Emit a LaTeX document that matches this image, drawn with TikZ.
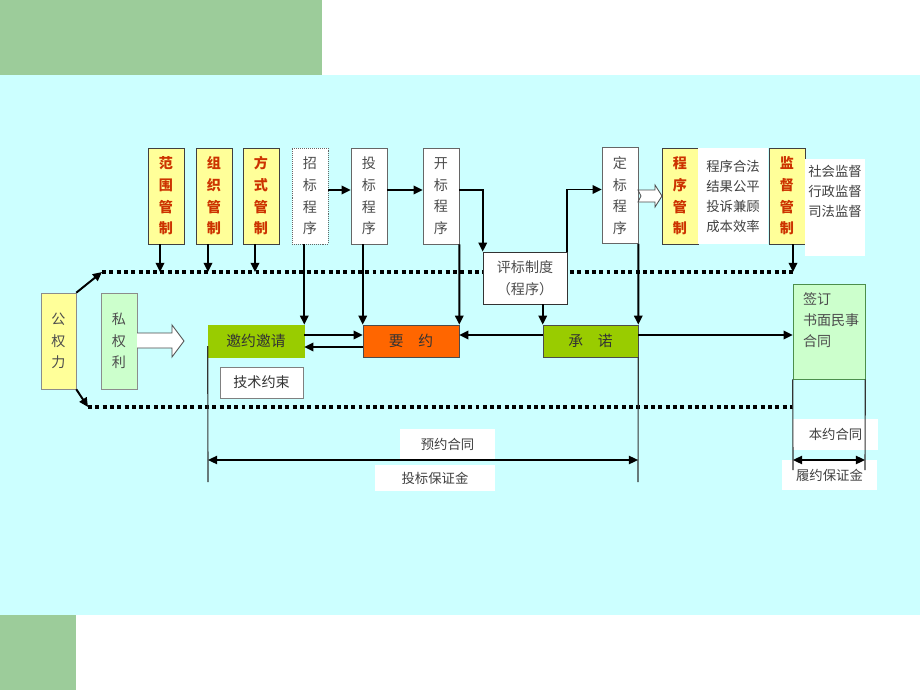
\documentclass[tikz,border=0pt]{standalone}
\usepackage{fontspec}
\setmainfont{Noto Sans CJK SC}
\usetikzlibrary{positioning, arrows.meta}

\definecolor{bgcyan}{HTML}{CCFFFF}
\definecolor{bargreen}{HTML}{9CCC9A}
\definecolor{ctrlyellow}{HTML}{FFFF99}
\definecolor{ctrlred}{HTML}{CC3300}
\definecolor{palegreen}{HTML}{CCFFCC}
\definecolor{leafgreen}{HTML}{99CC00}
\definecolor{offerorange}{HTML}{FF6600}

\tikzset{
    ctrlbox/.style={draw=black!75, fill=ctrlyellow, text=ctrlred, font=\bfseries\fontsize{10}{15.4}\selectfont,
        minimum width=.9cm, minimum height=2.4cm, inner sep=0pt, align=center},
    procbox/.style={draw=black!60, fill=white, text=black!70, font=\fontsize{10}{15.4}\selectfont,
        minimum width=.9cm, minimum height=2.4cm, inner sep=0pt, align=center},
    hbox/.style={draw=black!70, minimum width=2.4cm, minimum height=.8cm, inner sep=0pt,
        font=\fontsize{10.5}{12}\selectfont, text=black!80},
    note/.style={fill=white, inner sep=0pt, font=\fontsize{9.5}{14.2}\selectfont, text=black!75, align=center},
    dots/.style={line width=2.8pt, dash pattern=on 2.8pt off 2.4pt},
    conn/.style={line width=1.4pt, -{Triangle[length=6.5pt,width=6pt]}},
    fineln/.style={line width=.8pt, black!80},
    dimarrow/.style={line width=.9pt, {Triangle[length=6.5pt,width=6pt]}-{Triangle[length=6.5pt,width=6pt]}},
}

\begin{document}
\begin{tikzpicture}[x=0.025cm, y=-0.025cm]
        \useasboundingbox (0,0) rectangle (920,690);
        % background
        \fill[white] (0,0) rectangle (920,690);
        \fill[bargreen] (0,0) rectangle (322,75);
        \fill[bgcyan] (0,75) rectangle (920,615);
        \fill[bargreen] (0,615) rectangle (76,690);

        % labels under the arrows
        \node[note, minimum width=2.375cm, minimum height=.775cm] (yyht) at (447.5,444.5) {预约合同};
        \node[note, minimum width=3cm, minimum height=.65cm] (tbbz) at (435,478) {投标保证金};
        \node[note, minimum width=2.125cm, minimum height=.775cm] (byht) at (835.5,434.5) {本约合同};
        \node[note, minimum width=2.375cm, minimum height=.75cm] (lybz) at (829.5,475) {履约保证金};

        % the two dotted lines
        \coordinate (tl) at (102,272);
        \coordinate (tr) at (793,272);
        \coordinate (bl) at (88,407);
        \coordinate (br) at (793,407);
        \draw[dots] (tl) -- (tr);
        \draw[dots] (bl) -- (br);

        % top row
        \node[ctrlbox] (fw) at (166,196) {范\\围\\管\\制};
        \node[ctrlbox] (zz) at (214,196) {组\\织\\管\\制};
        \node[ctrlbox] (fs) at (261,196) {方\\式\\管\\制};
        \node[procbox, densely dotted] (zb) at (310,196) {招\\标\\程\\序};
        \node[procbox] (tb) at (369,196) {投\\标\\程\\序};
        \node[procbox] (kb) at (441,196) {开\\标\\程\\序};
        \node[procbox] (db) at (620,195.5) {定\\标\\程\\序};
        \node[ctrlbox] (cx) at (680,196) {程\\序\\管\\制};
        \node[note, minimum width=1.75cm, minimum height=2.4cm] (cxt) at (733,196) {程序合法\\结果公平\\投诉兼顾\\成本效率};
        \node[ctrlbox] (jd) at (787,196) {监\\督\\管\\制};
        \node[note, minimum width=1.5cm, minimum height=2.425cm] (jdt) at (835,207.5) {};
        \node[note, fill=none, anchor=north] (jdtx) at ([yshift=-.15cm]jdt.north) {社会监督\\行政监督\\司法监督};
        \node[procbox, draw=black!80, minimum width=2.1cm, minimum height=1.3cm] (pb) at (525,278) {评标制度\\（程序）};

        % middle row
        \node[procbox, fill=ctrlyellow, draw=black!45, minimum width=.875cm] (gq) at (58.5,341) {公\\权\\力};
        \node[procbox, fill=palegreen, draw=black!45] (sq) at (119,341) {私\\权\\利};
        \node[hbox, fill=leafgreen, draw=leafgreen] (yy) at (256,341) {邀约邀请};
        \node[hbox, fill=white, draw=black!50, minimum width=2.075cm, minimum height=.775cm, font=\fontsize{10}{12}\selectfont] (js) at (261.5,382.5) {技术约束};
        \node[hbox, fill=offerorange] (yao) at (411,341) {要\quad 约};
        \node[hbox, fill=leafgreen, minimum width=2.375cm] (cn) at (590.5,341) {承\quad 诺};
        \node[hbox, fill=palegreen, draw=black!35!green!40!gray, minimum width=1.8cm, minimum height=2.375cm] (qd) at (829,331.5) {};
        \node[anchor=north west, align=left, inner sep=0pt, text=black!70, font=\fontsize{10}{15}\selectfont] (qdt) at ([xshift=.25cm,yshift=-.22cm]qd.north west) {签订\\书面民事\\合同};

        % hollow arrows
        \draw[black!70, fill=white, line width=.6pt] (137,333) -- (172,333) -- (172,325) -- (184,341) -- (172,357) -- (172,348) -- (137,348);
        \draw[black!70, fill=white, line width=.6pt] (638,190) -- (655,190) -- (655,185) -- (662,196) -- (655,207) -- (655,202) -- (638,202) -- (641,196) -- cycle;

        % public power onto the dotted lines
        \draw[conn] (gq.north east) -- (tl);
        \draw[conn] (gq.south east) -- (bl);
        \foreach \n in {fw,zz,fs}
            \draw[conn] ([xshift=-.15cm]\n.south) -- ([xshift=-.15cm]\n.south |- tl);
        \draw[conn] (jd.south -| tr) -- (tr);

        % procedure chain
        \draw[conn] ([yshift=.15cm]zb.east) -- ([yshift=.15cm]tb.west);
        \draw[conn] ([yshift=.15cm]tb.east) -- ([yshift=.15cm]kb.west);
        \draw[conn] ([yshift=.15cm]kb.east) -| (pb.north west);
        \draw[conn] (pb.north east) |- ([yshift=.15cm]db.west);
        \draw[conn] (zb.south -| yy.north east) -- (yy.north east);
        \draw[conn] (tb.south -| yao.north west) -- (yao.north west);
        \draw[conn] (kb.south east) -- (yao.north east);
        \draw[conn] (pb.south -| cn.north west) -- (cn.north west);
        \draw[conn] (db.south east) -- (cn.north east);

        % offer and acceptance
        \draw[conn] ([yshift=.15cm]yy.east) -- ([yshift=.15cm]yao.west);
        \draw[conn] ([yshift=-.15cm]yao.west) -- ([yshift=-.15cm]yy.east);
        \draw[conn] ([yshift=.15cm]cn.west) -- ([yshift=.15cm]yao.east);
        \coordinate (cnE) at ([yshift=.15cm]cn.east);
        \draw[conn] (cnE) -- (cnE -| qd.west);

        % contract spans
        \coordinate (vl) at (208,482);
        \coordinate (vr) at (638,482);
        \coordinate (ya) at (208,460);
        \coordinate (yb) at (638,460);
        \coordinate (ql) at (793,470);
        \coordinate (qr) at (865,470);
        \coordinate (ra) at (793,460);
        \coordinate (rb) at (865,460);
        \draw[fineln] ([yshift=-.125cm]yy.west) -- (vl);
        \draw[fineln] (cn.south east) -- (vr);
        \draw[fineln] (qd.south west) -- (ql);
        \draw[fineln] (qd.south east) -- (qr);
        \draw[dimarrow] (ya) -- (yb);
        \draw[dimarrow] (ra) -- (rb);
\end{tikzpicture}
\end{document}
